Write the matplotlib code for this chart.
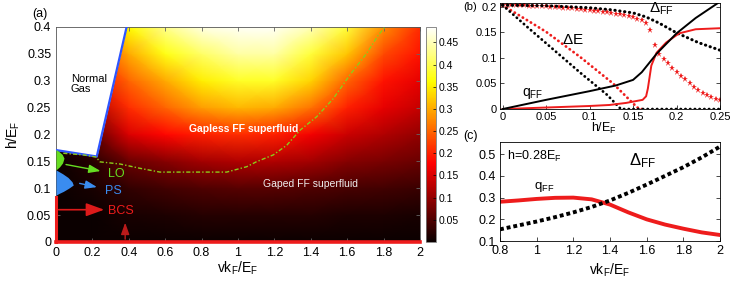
import numpy as np
import matplotlib.pyplot as plt
from matplotlib.ticker import FormatStrFormatter

plt.rcParams['font.family'] = ['Liberation Sans', 'DejaVu Sans']
plt.rcParams['mathtext.fontset'] = 'custom'
plt.rcParams['mathtext.rm'] = 'Liberation Sans'
plt.rcParams['mathtext.it'] = 'Liberation Sans:italic'

# ---- panel (a): q_FF map over (v k_F/E_F, h/E_F) ----
v_grid = [0.0, 0.2, 0.4, 0.6, 0.8, 1.0, 1.2, 1.4, 1.6, 1.8, 2.0]
h_grid = [0.0, 0.05, 0.1, 0.15, 0.2, 0.25, 0.3, 0.35, 0.4]
q_map = [
    [0, 0.00, 0.00, 0.000, 0.00, 0.000, 0.000, 0.00, 0.000, 0.000, 0.000],
    [0, 0.00, 0.01, 0.015, 0.02, 0.020, 0.020, 0.02, 0.015, 0.015, 0.010],
    [0, 0.01, 0.03, 0.040, 0.05, 0.055, 0.055, 0.05, 0.045, 0.040, 0.035],
    [0, 0.02, 0.07, 0.090, 0.11, 0.120, 0.120, 0.11, 0.090, 0.080, 0.070],
    [0, 0.06, 0.15, 0.180, 0.20, 0.210, 0.200, 0.17, 0.140, 0.120, 0.100],
    [0, 0.12, 0.21, 0.250, 0.29, 0.310, 0.300, 0.26, 0.200, 0.160, 0.135],
    [0, 0.18, 0.25, 0.300, 0.35, 0.380, 0.380, 0.33, 0.250, 0.190, 0.160],
    [0, 0.22, 0.30, 0.370, 0.41, 0.440, 0.440, 0.39, 0.320, 0.230, 0.190],
    [0, 0.26, 0.36, 0.430, 0.47, 0.480, 0.480, 0.45, 0.390, 0.280, 0.210],
]

# normal gas region and its boundary
normal_v = [0.0, 0.224, 0.388, 0.0]
normal_h = [0.171, 0.159, 0.40, 0.40]
# LO and PS pockets on the v=0 axis
lo_h = [0.134, 0.140, 0.147, 0.156, 0.163, 0.168, 0.172]
lo_v = [0.0, 0.020, 0.036, 0.044, 0.034, 0.017, 0.0]
ps_h = [0.087, 0.090, 0.094, 0.100, 0.106, 0.112, 0.120, 0.127, 0.134]
ps_v = [0.0, 0.015, 0.040, 0.070, 0.095, 0.088, 0.066, 0.036, 0.0]
# gapless / gaped boundary
gl_v = [0.04, 0.15, 0.22, 0.242, 0.352, 0.462, 0.571, 0.938, 1.048, 1.10,
        1.194, 1.268, 1.341, 1.432, 1.524, 1.615, 1.707, 1.771, 1.808]
gl_h = [0.165, 0.162, 0.158, 0.149, 0.145, 0.137, 0.13, 0.13, 0.14, 0.149,
        0.162, 0.18, 0.208, 0.233, 0.267, 0.311, 0.351, 0.385, 0.40]

# ---- panel (b): vs h/E_F ----
hb_star = np.linspace(0, 0.25, 51)
delta_star = [0.203, 0.203, 0.203, 0.203, 0.2028, 0.2025, 0.2022, 0.202, 0.2015, 0.201,
              0.2005, 0.2, 0.1995, 0.199, 0.1985, 0.198, 0.197, 0.196, 0.195, 0.194,
              0.193, 0.192, 0.191, 0.19, 0.189, 0.188, 0.186, 0.185, 0.183, 0.181,
              0.179, 0.177, 0.174, 0.168, 0.154, 0.125, 0.108, 0.098, 0.090, 0.081,
              0.073, 0.065, 0.058, 0.051, 0.044, 0.038, 0.032, 0.027, 0.023, 0.020, 0.018]
hb_dff = [0, 0.05, 0.1, 0.125, 0.15, 0.165, 0.18, 0.2, 0.225, 0.25]
delta_ff_b = [0.203, 0.202, 0.198, 0.194, 0.188, 0.180, 0.168, 0.149, 0.130, 0.115]
hb_de_k = [0, 0.03, 0.06, 0.09, 0.12, 0.136, 0.25]
de_black = [0.203, 0.158, 0.114, 0.070, 0.028, 0.0, 0.0]
hb_de_r = [0, 0.05, 0.089, 0.127, 0.15, 0.157, 0.165]
de_red = [0.203, 0.151, 0.102, 0.050, 0.011, 0.0, 0.0]
hb_q_k = [0, 0.05, 0.1, 0.13, 0.15, 0.16, 0.177, 0.2, 0.222, 0.25]
q_black = [0, 0.018, 0.035, 0.046, 0.057, 0.072, 0.108, 0.148, 0.178, 0.210]
hb_q_r = [0, 0.05, 0.1, 0.123, 0.142, 0.161, 0.165, 0.167, 0.171, 0.177, 0.188, 0.203, 0.222, 0.25]
q_red = [0, 0.003, 0.006, 0.008, 0.012, 0.018, 0.025, 0.040, 0.085, 0.110, 0.130, 0.148, 0.156, 0.158]

# ---- panel (c): h = 0.28 E_F ----
vc = [0.8, 0.9, 1.0, 1.1, 1.2, 1.3, 1.4, 1.5, 1.6, 1.7, 1.8, 1.9, 2.0]
delta_ff_c = [0.154, 0.172, 0.19, 0.21, 0.232, 0.257, 0.287, 0.322, 0.36, 0.40, 0.44, 0.485, 0.535]
q_ff_c = [0.281, 0.287, 0.294, 0.299, 0.300, 0.292, 0.268, 0.232, 0.200, 0.176, 0.157, 0.140, 0.128]

green = '#66dd22'
blue = '#3a8cf0'
red = '#ee1c1c'

fig = plt.figure(figsize=(7.31, 2.87), dpi=100)

ax = fig.add_axes([0.0766, 0.157, 0.498, 0.749])
V, H = np.meshgrid(v_grid, h_grid)
mesh = ax.pcolormesh(V, H, np.array(q_map), cmap='hot', vmin=0, vmax=0.485,
                     shading='gouraud', rasterized=True)
ax.fill(normal_v, normal_h, color='white', zorder=2)
ax.plot(normal_v[:3], normal_h[:3], color='#2d55ff', lw=1.6, zorder=3)
ax.fill_betweenx(lo_h, 0, lo_v, color=green, zorder=3, lw=0)
ax.fill_betweenx(ps_h, 0, ps_v, color=blue, zorder=3, lw=0)
ax.plot(gl_v, gl_h, color='#8ccc1a', lw=1.0, ls=(0, (3, 1.5, 1, 1.5)), zorder=3)
ax.plot([0, 0], [0, 0.084], color=red, lw=2.2, zorder=4, clip_on=False)
ax.plot([0, 2], [0, 0], color=red, lw=2.6, zorder=4, clip_on=False)

ax.annotate('', xy=(0.26, 0.131), xytext=(0.04, 0.145),
            arrowprops=dict(arrowstyle='-|>,head_length=0.7,head_width=0.25', color=green, lw=1))
ax.annotate('', xy=(0.24, 0.101), xytext=(0.115, 0.110),
            arrowprops=dict(arrowstyle='-|>,head_length=0.7,head_width=0.25', color=blue, lw=1))
ax.annotate('', xy=(0.28, 0.060), xytext=(0.0, 0.060),
            arrowprops=dict(arrowstyle='-|>,head_length=1.1,head_width=0.4', color='#dd1a1a', lw=1.2))
ax.annotate('', xy=(0.38, 0.041), xytext=(0.38, 0.0),
            arrowprops=dict(arrowstyle='-|>,head_length=0.7,head_width=0.25', color='#bb1a1a', lw=1))
ax.text(0.285, 0.127, 'LO', color=green, fontsize=9, va='center')
ax.text(0.27, 0.094, 'PS', color=blue, fontsize=9, va='center')
ax.text(0.285, 0.058, 'BCS', color=red, fontsize=9, va='center')
ax.text(0.082, 0.294, 'Normal\nGas', fontsize=8, va='center', linespacing=1.1)
ax.text(1.03, 0.21, 'Gapless FF superfluid', color='white', fontsize=7.5,
        fontweight='bold', ha='center', va='center')
ax.text(1.40, 0.108, 'Gaped FF superfluid', color='#eeeeee', fontsize=7.5,
        ha='center', va='center')

ax.set_xlim(0, 2)
ax.set_ylim(0, 0.4)
ax.set_xticks(np.arange(0, 2.01, 0.2))
ax.set_yticks(np.arange(0, 0.401, 0.05))
ax.xaxis.set_major_formatter(FormatStrFormatter('%g'))
ax.yaxis.set_major_formatter(FormatStrFormatter('%g'))
ax.tick_params(direction='in', length=3, labelsize=9, top=True, right=True,
               width=0.6, color='#666666')
for s in ax.spines.values():
    s.set_linewidth(0.6)
    s.set_color('#555555')
fig.text(238 / 731, 1 - 268 / 287, r'$\mathrm{vk_F/E_F}$', fontsize=10, ha='center', va='center')
fig.text(13 / 731, 1 - 135 / 287, r'$\mathrm{h/E_F}$', fontsize=10, ha='center', va='center',
         rotation=90)
fig.text(40 / 731, 1 - 14 / 287, '(a)', fontsize=9, ha='center', va='center')

cax = fig.add_axes([0.5828, 0.157, 0.0137, 0.749])
cb = fig.colorbar(mesh, cax=cax, ticks=[0.05, 0.1, 0.15, 0.2, 0.25, 0.3, 0.35, 0.4, 0.45])
cb.ax.yaxis.set_major_formatter(FormatStrFormatter('%g'))
cb.ax.tick_params(direction='in', length=2, labelsize=7.5, width=0.5, pad=2)
cb.outline.set_linewidth(0.6)
cb.outline.set_edgecolor('#777777')

# panel (b)
axb = fig.add_axes([0.684, 0.620, 0.301, 0.369])
axb.plot(hb_star, delta_star, ls='none', marker='*', ms=4.5, color=red, mew=0)
axb.plot(hb_de_r, de_red, color=red, lw=2.0, ls=(0, (0.1, 1.6)), dash_capstyle='round')
axb.plot(hb_de_k, de_black, color='black', lw=2.0, ls=(0, (0.1, 1.6)), dash_capstyle='round')
axb.plot(hb_dff, delta_ff_b, color='black', lw=2.2, ls=(0, (0.1, 1.5)), dash_capstyle='round')
axb.plot(hb_q_r, q_red, color=red, lw=1.4)
axb.plot(hb_q_k, q_black, color='black', lw=1.4)
axb.text(0.081, 0.135, r'$\Delta\mathrm{E}$', fontsize=11, ha='center', va='center')
axb.text(0.168, 0.195, r'$\Delta_{\mathrm{FF}}$', fontsize=11, ha='left', va='center')
axb.text(0.022, 0.031, r'$\mathrm{q_{FF}}$', fontsize=10, ha='left', va='center')
axb.set_xlim(-0.003, 0.25)
axb.set_ylim(0, 0.207)
axb.set_xticks([0, 0.05, 0.1, 0.15, 0.2, 0.25])
axb.set_yticks([0, 0.05, 0.1, 0.15, 0.2])
axb.xaxis.set_major_formatter(FormatStrFormatter('%g'))
axb.yaxis.set_major_formatter(FormatStrFormatter('%g'))
axb.tick_params(direction='in', length=3, labelsize=8, right=True, width=0.5, pad=2)
for s in axb.spines.values():
    s.set_linewidth(0.6)
fig.text(604 / 731, 1 - 128 / 287, r'$\mathrm{h/E_F}$', fontsize=9, ha='center', va='center')
fig.text(470 / 731, 1 - 7 / 287, '(b)', fontsize=8, ha='center', va='center')

# panel (c)
axc = fig.add_axes([0.684, 0.160, 0.301, 0.346])
axc.plot(vc, q_ff_c, color=red, lw=2.8)
axc.plot(vc, delta_ff_c, color='black', lw=2.8, ls=(0, (1, 0.75)))
axc.text(0.838, 0.49, r'$\mathrm{h\!=\!0.28E_F}$', fontsize=9, ha='left', va='center')
axc.text(0.985, 0.348, r'$\mathrm{q_{FF}}$', fontsize=9.5, ha='left', va='center')
axc.text(1.503, 0.472, r'$\Delta_{\mathrm{FF}}$', fontsize=12, ha='left', va='center')
axc.set_xlim(0.8, 2.0)
axc.set_ylim(0.1, 0.557)
axc.set_xticks([0.8, 1.0, 1.2, 1.4, 1.6, 1.8, 2.0])
axc.set_yticks([0.1, 0.2, 0.3, 0.4, 0.5])
axc.xaxis.set_major_formatter(FormatStrFormatter('%g'))
axc.yaxis.set_major_formatter(FormatStrFormatter('%g'))
axc.tick_params(direction='in', length=3, labelsize=9, right=True, width=0.5, pad=3)
for s in axc.spines.values():
    s.set_linewidth(0.6)
fig.text(610 / 731, 1 - 270 / 287, r'$\mathrm{vk_F/E_F}$', fontsize=10, ha='center', va='center')
fig.text(470 / 731, 1 - 136 / 287, '(c)', fontsize=9, ha='center', va='center')

fig.savefig('out.png', dpi=100)
